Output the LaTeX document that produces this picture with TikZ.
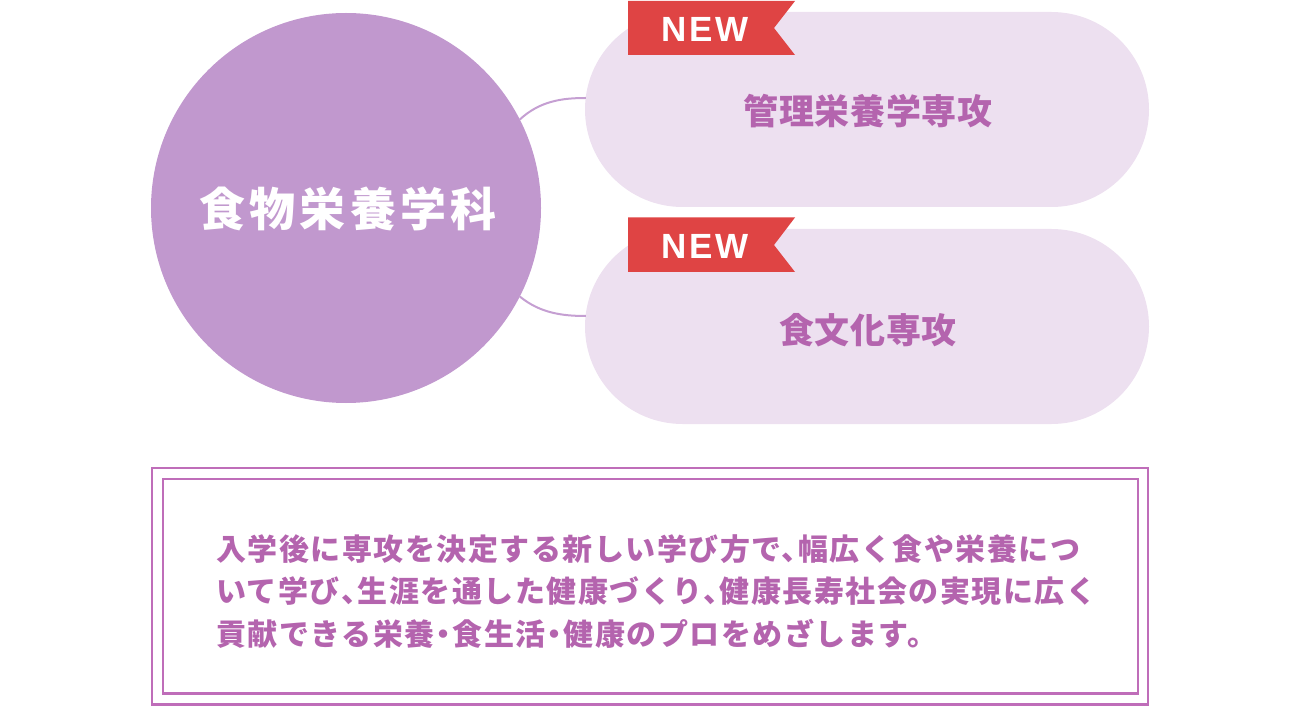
\documentclass[tikz,border=0pt]{standalone}
\usepackage{fontspec}
\newfontfamily\ribbonfont[LetterSpace=8]{Liberation Sans}
\newfontfamily\jptitle[LetterSpace=9]{Noto Sans CJK JP}
\newfontfamily\jpsub[LetterSpace=1.5]{Noto Sans CJK JP}
\newfontfamily\jppara[LetterSpace=5,RawFeature=+halt]{Noto Sans CJK JP}
\definecolor{circ}{HTML}{C198CE}
\definecolor{pill}{HTML}{EDE0F0}
\definecolor{ptext}{HTML}{B464AE}
\definecolor{ribbon}{HTML}{DF4444}
\definecolor{frame}{HTML}{BF6DB9}
\definecolor{link}{HTML}{C59FD2}
\tikzset{
  pillbox/.style={draw=none,fill=pill,minimum width=564pt,minimum height=195pt,rounded corners=97.5pt,inner sep=0pt},
  pilltext/.style={text=ptext,font=\jpsub\bfseries\fontsize{35}{40}\selectfont},
  ribbonshape/.style={fill=ribbon,draw=none},
  newtext/.style={text=white,font=\ribbonfont\bfseries\fontsize{35}{40}\selectfont},
  linkline/.style={draw=link,line width=2pt},
  frameline/.style={draw=frame,line width=2.2pt},
  paraline/.style={anchor=west,text=ptext,inner sep=0pt,font=\jppara\bfseries\fontsize{30}{34}\selectfont},
}
\begin{document}
\begin{tikzpicture}[x=1pt,y=-1pt]
\useasboundingbox (0,0) rectangle (1300,708);
% big circle
\node[circle,fill=circ,minimum size=390pt,inner sep=0pt] (dept) at (346,208) {};
\node[text=white,font=\jptitle\bfseries\fontsize{46}{50}\selectfont] (deptlabel) at (348,209) {食物栄養学科};
% pills
\node[pillbox] (p1) at (867,109.5) {};
\node[pillbox] (p2) at (867,326.5) {};
\node[pilltext] (p1label) at (868,111) {管理栄養学専攻};
\node[pilltext] (p2label) at (868,330) {食文化専攻};
% connectors
\draw[linkline] (dept.27) .. controls (540,101) and (562,98) .. ([yshift=11.5pt,xshift=1pt]p1.west);
\draw[linkline] (dept.-27) .. controls (540,313) and (562,316) .. ([yshift=10.5pt,xshift=1pt]p2.west);
% ribbons
\fill[ribbonshape] (628,1) -- (795,1) -- (774,28) -- (795,55) -- (628,55) -- cycle;
\node[newtext] (new1) at (705,29) {NEW};
\fill[ribbonshape] (628,217.5) -- (795,217.5) -- (774,245) -- (795,272) -- (628,272) -- cycle;
\node[newtext] (new2) at (705,246) {NEW};
% frame
\draw[frameline] (152,468.2) rectangle (1148,704.5);
\draw[frameline] (162.6,479.2) rectangle (1137.6,693.5);
% paragraph
\node[paraline] (l1) at (216,549) {入学後に専攻を決定する新しい学び方で、幅広く食や栄養につ};
\node[paraline] (l2) at (216,591) {いて学び、生涯を通した健康づくり、健康長寿社会の実現に広く};
\node[paraline] (l3) at (216,634) {貢献できる栄養・食生活・健康のプロをめざします。};
\end{tikzpicture}
\end{document}
